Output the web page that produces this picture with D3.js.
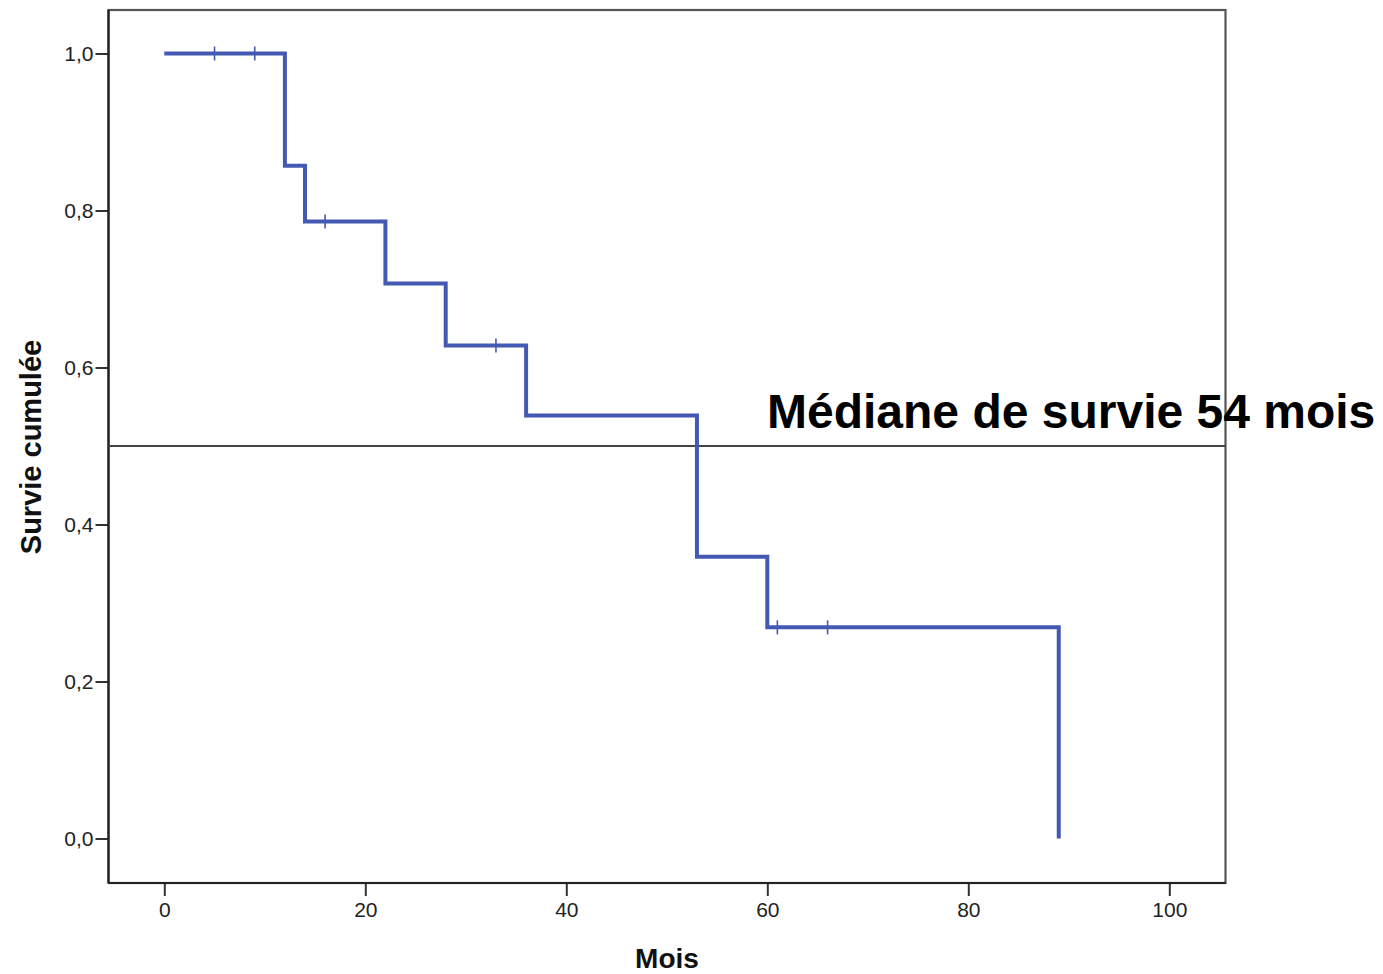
<!DOCTYPE html>
<html>
<head>
<meta charset="utf-8">
<script src="https://cdn.jsdelivr.net/npm/d3@7"></script>
<style>
  body { margin: 0; background: #fff; }
  text { font-family: "Liberation Sans", Arial, sans-serif; }
</style>
</head>
<body>
<div id="chart"></div>
<script>
// Kaplan-Meier steps (mois, survie cumulée)
var eventTimes = [0, 12, 14, 22, 28, 36, 53, 60, 89];
var survival = [1.0, 0.857, 0.786, 0.707, 0.628, 0.539, 0.359, 0.269, 0.0];
// censored observations
var censorTimes = [5, 9, 16, 33, 61, 66];
var censorSurvival = [1.0, 1.0, 0.786, 0.628, 0.269, 0.269];

var xTicks = [0, 20, 40, 60, 80, 100];
var yTicks = [0, 0.2, 0.4, 0.6, 0.8, 1.0];
var medianLevel = 0.5;
var medianLabel = "Médiane de survie 54 mois";

var W = 1383, H = 974;
// plot frame
var frame = {left: 108.5, right: 1225.5, top: 10, bottom: 883};

var svg = d3.select("#chart")
  .append("svg")
  .attr("width", W)
  .attr("height", H);

var x = d3.scaleLinear()
  .domain([0, 100])
  .range([164.3, 1169.3]);

var y = d3.scaleLinear()
  .domain([0, 1])
  .range([838.5, 53.5]);

// frame
svg.append("rect")
  .attr("x", frame.left)
  .attr("y", frame.top)
  .attr("width", frame.right - frame.left)
  .attr("height", frame.bottom - frame.top)
  .attr("fill", "none")
  .attr("stroke", "#555")
  .attr("stroke-width", 2.2);

// axes
var fmt = function(d) { return d.toFixed(1).replace(".", ","); };

var xAxis = svg.append("g")
  .attr("transform", "translate(0," + frame.bottom + ")")
  .call(d3.axisBottom(x).tickValues(xTicks).tickSize(13).tickPadding(6).tickFormat(d3.format("d")));

var yAxis = svg.append("g")
  .attr("transform", "translate(" + frame.left + ",0)")
  .call(d3.axisLeft(y).tickValues(yTicks).tickSize(13).tickPadding(2).tickFormat(fmt));

[xAxis, yAxis].forEach(function(a) {
  a.select(".domain").remove();
  a.selectAll(".tick line").attr("stroke", "#333").attr("stroke-width", 2);
  a.selectAll(".tick text")
    .attr("fill", "#222")
    .style("font-size", "21px")
    .style("font-family", "'Liberation Sans', Arial, sans-serif");
});

// darker left / bottom axis lines
svg.append("line")
  .attr("x1", frame.left).attr("x2", frame.left)
  .attr("y1", frame.top).attr("y2", frame.bottom)
  .attr("stroke", "#222").attr("stroke-width", 2.2);
svg.append("line")
  .attr("x1", frame.left).attr("x2", frame.right)
  .attr("y1", frame.bottom).attr("y2", frame.bottom)
  .attr("stroke", "#222").attr("stroke-width", 2.2);

// median reference line
svg.append("line")
  .attr("x1", frame.left)
  .attr("x2", frame.right)
  .attr("y1", y(medianLevel))
  .attr("y2", y(medianLevel))
  .attr("stroke", "#444")
  .attr("stroke-width", 2);

// survival curve
var steps = eventTimes.map(function(t, i) { return [t, survival[i]]; });
var line = d3.line()
  .x(function(d) { return x(d[0]); })
  .y(function(d) { return y(d[1]); })
  .curve(d3.curveStepAfter);

svg.append("path")
  .datum(steps)
  .attr("d", line)
  .attr("fill", "none")
  .attr("stroke", "#4459b3")
  .attr("stroke-width", 4)
  .attr("stroke-linejoin", "miter");

// censor marks
svg.selectAll(".censor")
  .data(censorTimes)
  .enter()
  .append("line")
  .attr("class", "censor")
  .attr("x1", function(d) { return x(d); })
  .attr("x2", function(d) { return x(d); })
  .attr("y1", function(d, i) { return y(censorSurvival[i]) - 7; })
  .attr("y2", function(d, i) { return y(censorSurvival[i]) + 7; })
  .attr("stroke", "#4459b3")
  .attr("stroke-width", 1.6);

// axis titles
svg.append("text")
  .attr("x", 667)
  .attr("y", 968)
  .attr("text-anchor", "middle")
  .style("font-size", "28px")
  .style("font-weight", "bold")
  .attr("fill", "#111")
  .text("Mois");

svg.append("text")
  .attr("transform", "translate(41,447) rotate(-90)")
  .attr("text-anchor", "middle")
  .style("font-size", "29px")
  .style("font-weight", "bold")
  .attr("fill", "#111")
  .text("Survie cumulée");

// median annotation
svg.append("text")
  .attr("x", 767)
  .attr("y", 428)
  .style("font-size", "48px")
  .style("font-weight", "bold")
  .attr("fill", "#000")
  .text(medianLabel);
</script>
</body>
</html>
